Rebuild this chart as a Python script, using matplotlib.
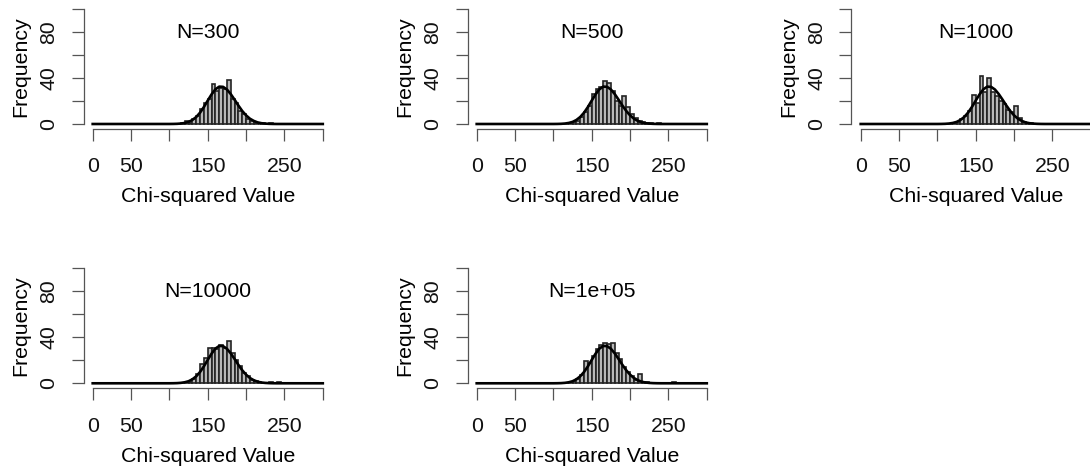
import numpy as np
import matplotlib.pyplot as plt

plt.rcParams['font.family'] = ['Liberation Sans', 'DejaVu Sans']
plt.rcParams['font.size'] = 15.3

# panel titles (sample size per panel)
titles = ['N=300', 'N=500', 'N=1000', 'N=10000', 'N=1e+05']

# histogram breaks: width 5 from 0 to 300
breaks = np.arange(0, 305, 5)
first_bin = 115   # left edge of the first listed count below

counts_300 = [1, 3, 1, 4, 7, 13, 18, 22, 35, 29, 31, 30, 38, 22, 18, 11, 9, 4, 3, 1, 0, 1, 0, 1]
counts_500 = [0, 1, 2, 3, 6, 10, 16, 26, 30, 32, 37, 36, 29, 20, 16, 24, 15, 9, 5, 3, 2, 1, 1, 0, 1]
counts_1000 = [0, 1, 2, 4, 7, 11, 25, 18, 42, 28, 40, 28, 24, 20, 17, 12, 10, 16, 5, 2, 1, 1]
counts_10000 = [0, 1, 1, 4, 8, 17, 22, 31, 31, 30, 33, 31, 37, 26, 20, 15, 9, 6, 3, 2, 1, 0, 0, 1, 0, 1]
counts_1e5 = [0, 1, 2, 4, 7, 19, 18, 24, 30, 33, 35, 34, 35, 26, 21, 14, 10, 6, 3, 8, 1, 1,
              0, 0, 0, 0, 0, 0, 1]
all_counts = [counts_300, counts_500, counts_1000, counts_10000, counts_1e5]

# expected-frequency curve
curve_x = [0, 100, 105, 110, 115, 120, 125, 130, 135, 140, 145, 150, 155, 160, 165,
           170, 175, 180, 185, 190, 195, 200, 205, 210, 215, 220, 225, 230, 235, 240, 300]
curve_y = [0, 0.02, 0.06, 0.16, 0.4, 0.9, 1.8, 3.5, 6.1, 9.9, 14.8, 20.4, 25.8, 30.2, 32.5,
           32.3, 30.0, 26.0, 21.1, 16.0, 11.3, 7.5, 4.6, 2.7, 1.4, 0.7, 0.34, 0.15, 0.06, 0.02, 0]

W, H = 1090, 471
fig = plt.figure(figsize=(W / 100, H / 100), dpi=100)
axis_col = '#555555'

for i, (title, counts) in enumerate(zip(titles, all_counts)):
    row, col = divmod(i, 3)
    left = 83.5 + 384 * col
    top = 4.4 + 259.3 * row
    ax = fig.add_axes([left / W, 1 - (top + 124.2) / H, 248.5 / W, 124.2 / H])

    heights = np.zeros(len(breaks) - 1)
    start = int((first_bin - breaks[0]) // 5)
    heights[start:start + len(counts)] = counts
    ax.bar(breaks[:-1], heights, width=5, align='edge',
           facecolor='#b8b8b8', edgecolor='#222222', linewidth=1.2)
    ax.plot(curve_x, curve_y, color='black', linewidth=1.9)

    ax.set_xlim(-12, 312)
    ax.set_ylim(-4, 104)
    for s in ['top', 'right']:
        ax.spines[s].set_visible(False)
    ax.spines['left'].set_bounds(0, 100)
    ax.spines['bottom'].set_bounds(0, 300)
    for s in ['left', 'bottom']:
        ax.spines[s].set_color(axis_col)
        ax.spines[s].set_linewidth(0.9)

    ax.set_xticks(np.arange(0, 301, 50))
    ax.set_xticklabels(['0', '50', '', '150', '', '250', ''])
    ax.set_yticks(np.arange(0, 101, 20))
    ax.set_yticklabels(['0', '', '40', '', '80', ''])
    ax.tick_params(axis='x', direction='out', length=8.6, width=0.9,
                   color=axis_col, pad=12.2, labelcolor='#111111')
    ax.tick_params(axis='y', direction='out', length=8.6, width=0.9,
                   color=axis_col, pad=9.4, labelcolor='#111111')
    for lab in ax.get_yticklabels():
        lab.set_rotation(90)
        lab.set_va('center')

    ax.text(0.5, 0.7295, title, ha='center', va='baseline', transform=ax.transAxes)
    ax.text(0.5, -0.5934, 'Chi-squared Value', ha='center', va='baseline',
            transform=ax.transAxes)
    ax.text(-0.2523, 0.5, 'Frequency', rotation=90, ha='center', va='center',
            transform=ax.transAxes)

fig.savefig('out.png', dpi=100)
